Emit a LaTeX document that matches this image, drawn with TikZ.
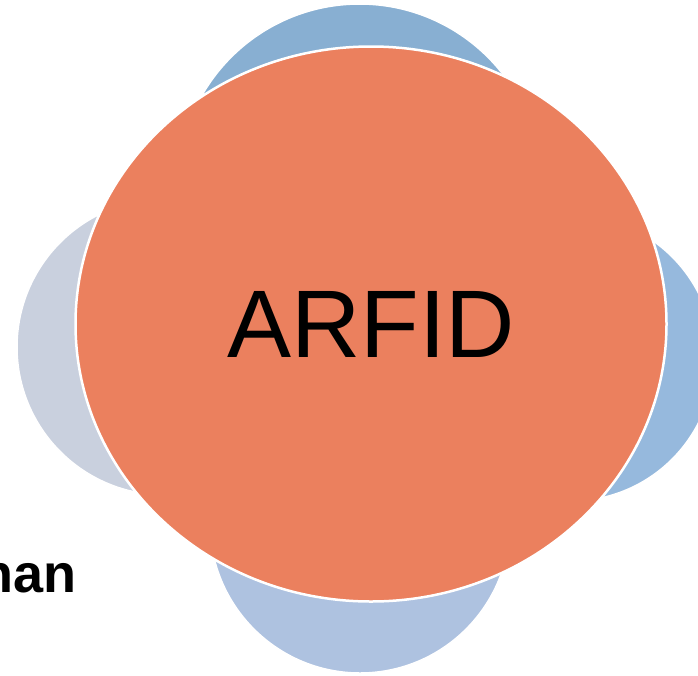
\documentclass[tikz,border=0pt]{standalone}
\usepackage{fontspec}
\setmainfont{Liberation Sans}
\usepackage{tikz}
\usetikzlibrary{shapes}

\definecolor{orng}{RGB}{235,128,94}
\definecolor{topblue}{RGB}{136,175,210}
\definecolor{rightblue}{RGB}{150,185,221}
\definecolor{botblue}{RGB}{174,194,224}
\definecolor{leftgray}{RGB}{201,208,222}

\begin{document}
\begin{tikzpicture}[x=1pt, y=-1pt, sat/.style={circle, draw=white, line width=1.5pt, inner sep=0pt}]
\useasboundingbox (0,0) rectangle (698,675);
\clip (0,0) rectangle (698,675);
\node[sat, fill=topblue, minimum size=363pt] (T) at (359.5,185.5) {};
\node[sat, fill=leftgray, minimum size=296pt] (L) at (165,347) {};
\node[sat, fill=rightblue, minimum size=286pt] (R) at (571,358) {};
\node[sat, fill=botblue, minimum size=300pt] (B) at (360,523) {};
\node[ellipse, draw=white, line width=2.5pt, fill=orng, inner sep=0pt, minimum width=591pt, minimum height=555pt, font=\fontsize{96}{100}\selectfont] (ARFID) at (371,324) {ARFID};
\node[font=\bfseries\fontsize{54}{60}\selectfont, inner sep=0pt, anchor=base east] (N) at (77,592) {nan};
\end{tikzpicture}
\end{document}
